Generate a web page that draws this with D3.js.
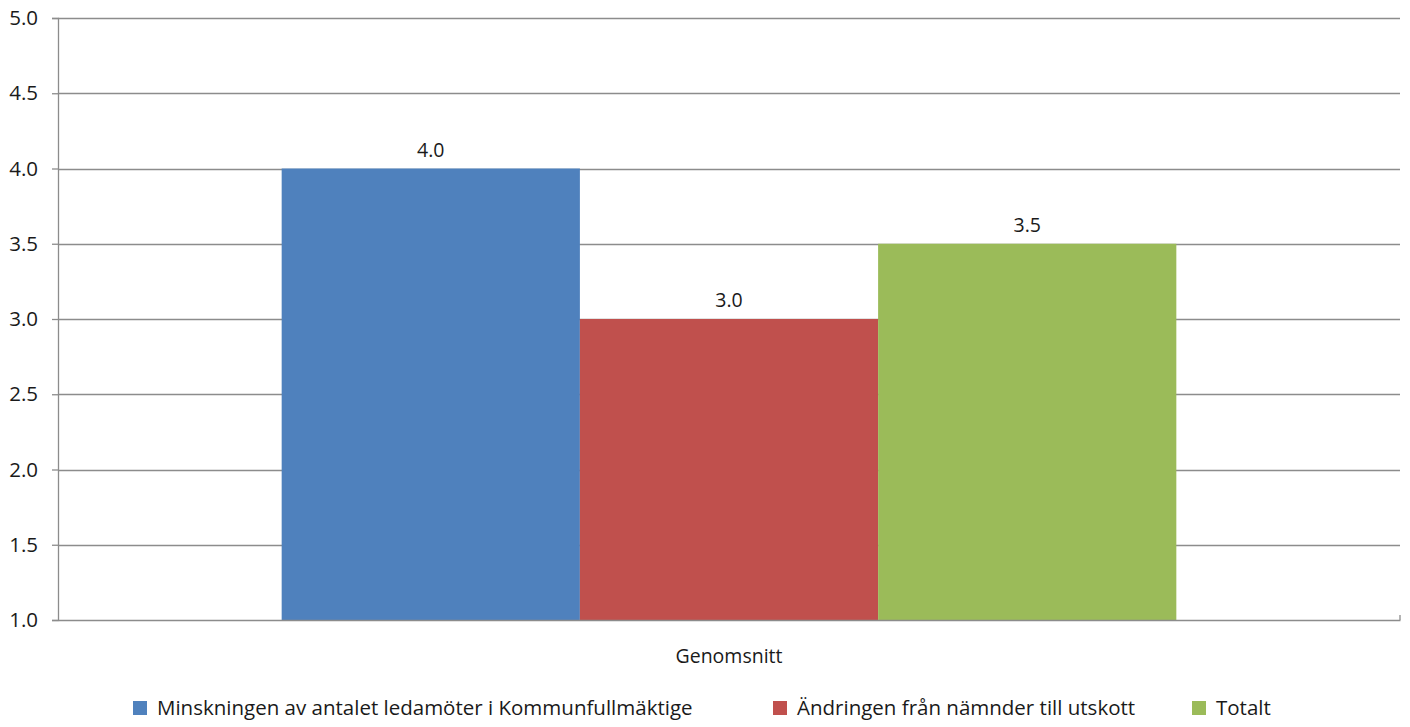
<!DOCTYPE html>
<html>
<head>
<meta charset="utf-8">
<script src="https://d3js.org/d3.v7.min.js"></script>
<style>
  body { margin: 0; background: #fff; }
  text { font-family: "Open Sans", "Noto Sans", sans-serif; fill: #1a1a1a; }
</style>
</head>
<body>
<div id="chart"></div>
<script>
// chart data
var categories = ["Genomsnitt"];
var seriesNames = ["Minskningen av antalet ledamöter i Kommunfullmäktige",
                   "Ändringen från nämnder till utskott",
                   "Totalt"];
var seriesValues = [4.0, 3.0, 3.5];
var seriesColors = ["#4f81bd", "#c0504d", "#9bbb59"];
var yTicks = [1.0, 1.5, 2.0, 2.5, 3.0, 3.5, 4.0, 4.5, 5.0];

var width = 1410, height = 727;
var margin = {top: 18, right: 10, bottom: 107, left: 58};

var svg = d3.select("#chart").append("svg")
    .attr("width", width)
    .attr("height", height);

var x = d3.scaleBand()
    .domain(categories)
    .range([margin.left, width - margin.right]);

// 3 bars plus a gap of 1.5 bar widths (gap width 150%)
var groupW = x.bandwidth() / 1.5;
var barW = groupW / 3;

var y = d3.scaleLinear()
    .domain([1, 5])
    .range([height - margin.bottom, margin.top]);

// gridlines
svg.append("g").selectAll("line")
  .data(yTicks.slice(1))
  .enter().append("line")
    .attr("x1", margin.left).attr("x2", width - margin.right)
    .attr("y1", function(d){ return Math.round(y(d)) + 0.5; })
    .attr("y2", function(d){ return Math.round(y(d)) + 0.5; })
    .attr("stroke", "#8c8c8c").attr("stroke-width", 1.3);

// bars
var x0 = x(categories[0]) + (x.bandwidth() - groupW) / 2;
svg.append("g").selectAll("rect")
  .data(seriesValues)
  .enter().append("rect")
    .attr("x", function(d, i){ return x0 + i * barW; })
    .attr("y", function(d){ return y(d); })
    .attr("width", barW)
    .attr("height", function(d){ return y(1) - y(d); })
    .attr("fill", function(d, i){ return seriesColors[i]; });

// value labels
svg.append("g").selectAll("text")
  .data(seriesValues)
  .enter().append("text")
    .attr("x", function(d, i){ return x0 + i * barW + barW / 2; })
    .attr("y", function(d){ return y(d) - 12; })
    .attr("text-anchor", "middle")
    .attr("font-size", 19.5)
    .text(function(d){ return d.toFixed(1); });

// y axis
var yAxis = svg.append("g")
    .attr("transform", "translate(" + margin.left + ",0)")
    .call(d3.axisLeft(y).tickValues(yTicks).tickFormat(d3.format(".1f")).tickSizeOuter(0).tickSize(6).tickPadding(14));
yAxis.selectAll("line, path").attr("stroke", "#8c8c8c").attr("stroke-width", 1.3);
yAxis.selectAll("text").attr("font-size", 20.5).attr("font-family", "Open Sans, Noto Sans, sans-serif").attr("fill", "#1a1a1a");

// x axis
var xAxis = svg.append("g")
    .attr("transform", "translate(0," + y(1) + ")")
    .call(d3.axisBottom(x).tickSize(0).tickSizeOuter(0).tickPadding(29));
xAxis.select("path").attr("stroke", "#8c8c8c").attr("stroke-width", 1.3);
xAxis.selectAll("text").attr("font-size", 19.5).attr("font-family", "Open Sans, Noto Sans, sans-serif").attr("fill", "#1a1a1a");
// small category boundary tick at the right end
xAxis.append("line")
    .attr("x1", width - margin.right).attr("x2", width - margin.right)
    .attr("y1", -5).attr("y2", 0)
    .attr("stroke", "#8c8c8c").attr("stroke-width", 1.3);

// legend
var legendX = [133, 773, 1192];
var items = svg.append("g").selectAll("g")
  .data(seriesNames)
  .enter().append("g")
    .attr("transform", function(d, i){ return "translate(" + legendX[i] + ",715)"; });
items.append("rect")
    .attr("width", 14).attr("height", 14)
    .attr("y", -14)
    .attr("fill", function(d, i){ return seriesColors[i]; });
items.append("text")
    .attr("x", 24)
    .attr("font-size", 20.5)
    .text(function(d){ return d; });
</script>
</body>
</html>
